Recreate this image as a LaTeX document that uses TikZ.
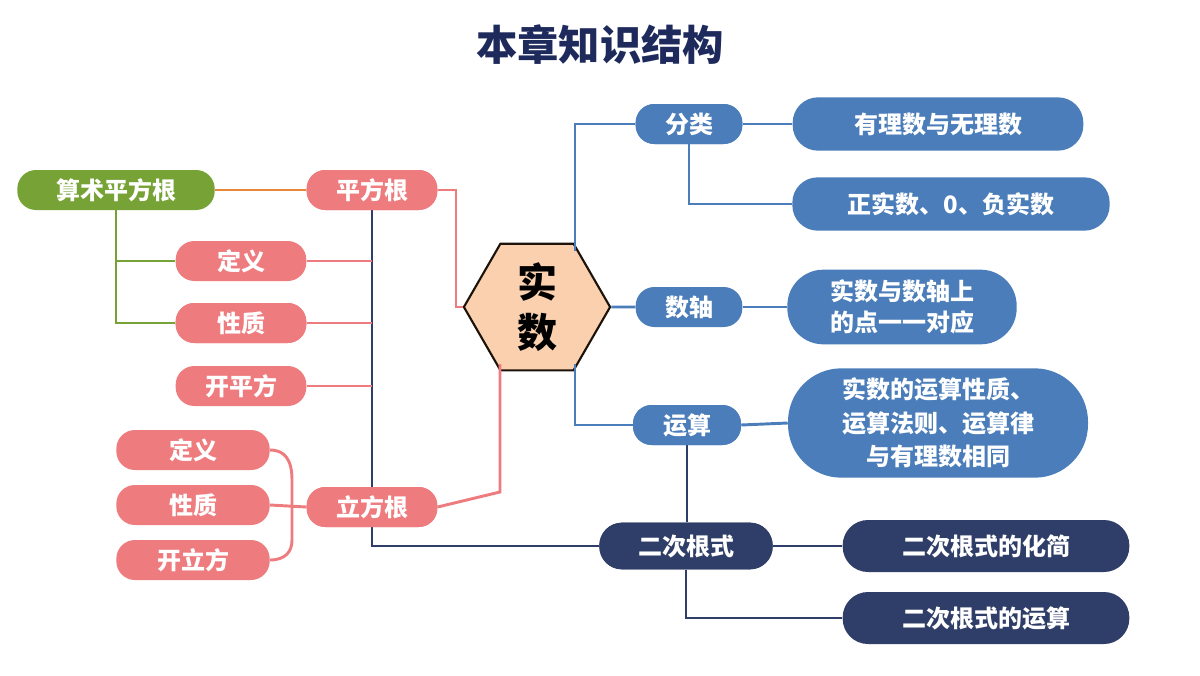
\documentclass[tikz,border=0pt]{standalone}
\usepackage{fontspec}
\setmainfont{Noto Sans CJK SC}
\usetikzlibrary{shapes.geometric}
\definecolor{pk}{HTML}{EE7B7D}
\definecolor{gr}{HTML}{76A236}
\definecolor{bl}{HTML}{4A7DB9}
\definecolor{nv}{HTML}{2F3E68}
\definecolor{orl}{HTML}{E8873A}
\definecolor{peach}{HTML}{FAD0AE}
\definecolor{ttl}{HTML}{1F2A5C}
\begin{document}
\begin{tikzpicture}[x=0.75pt,y=-0.75pt,
 box/.style={rounded corners=14pt,text=white,font=\fontsize{18}{21}\selectfont\bfseries,inner sep=0pt,minimum height=30pt,align=center},
 p/.style={box,fill=pk},
 g/.style={box,fill=gr},
 b/.style={box,fill=bl},
 n/.style={box,fill=nv},
 lp/.style={pk,line width=2.2pt},
 lg/.style={gr,line width=2.2pt},
 lb/.style={bl,line width=2.2pt},
 ln/.style={nv,line width=2.2pt}]
\useasboundingbox (0,0) rectangle (1200,675);
\node[font=\fontsize{31}{36}\selectfont\bfseries,text=ttl] (t) at (600,45) {本章知识结构};
% nodes
\node[g,minimum width=148pt] (ss) at (116,190) {算术平方根};
\node[p,minimum width=98pt] (pf) at (372,190) {平方根};
\node[p,minimum width=98pt] (dy) at (241,261) {定义};
\node[p,minimum width=98pt] (xz) at (241,323) {性质};
\node[p,minimum width=98pt] (kp) at (241,386) {开平方};
\node[p,minimum width=115pt] (dy2) at (193,450) {定义};
\node[p,minimum width=115pt] (xz2) at (193,505) {性质};
\node[p,minimum width=115pt] (kl) at (193,560) {开立方};
\node[p,minimum width=98pt] (lf) at (372,507) {立方根};
\node[regular polygon,regular polygon sides=6,minimum size=100pt,inner sep=0pt,fill=peach,draw=black!85!brown,line width=1.6pt,font=\fontsize{30}{38}\selectfont\bfseries,align=center] (hex) at (537,307) {实\\数};
\coordinate (hbl) at (500,364);
\coordinate (hbr) at (575,364);
\coordinate (htr) at (575,251);
\node[b,minimum width=80pt] (fl) at (689,124) {分类};
\node[b,minimum width=218pt,minimum height=40pt,rounded corners=19pt] (yl) at (938,124) {有理数与无理数};
\node[b,minimum width=238pt,minimum height=40pt,rounded corners=19pt] (zs) at (951,204) {正实数、0、负实数};
\node[b,minimum width=80pt] (sz) at (689,307) {数轴};
\node[b,minimum width=172pt,minimum height=56pt,rounded corners=27pt,font=\fontsize{18}{23}\selectfont\bfseries] (dd) at (902,307) {实数与数轴上\\的点一一对应};
\node[b,minimum width=81pt] (ys) at (687,425) {运算};
\node[b,minimum width=225pt,minimum height=82pt,rounded corners=40pt,font=\fontsize{18}{25}\selectfont\bfseries] (big) at (938,423) {实数的运算性质、\\运算法则、运算律\\与有理数相同};
\node[n,minimum width=130pt,minimum height=35pt,rounded corners=17pt] (ec) at (686,546) {二次根式};
\node[n,minimum width=215pt,minimum height=39pt,rounded corners=19pt] (hj) at (986,546) {二次根式的化简};
\node[n,minimum width=215pt,minimum height=39pt,rounded corners=19pt] (ys2) at (986,618) {二次根式的运算};
% connectors
\begin{scope}[on background layer/.style={}]
\end{scope}
\draw[orl,line width=2.2pt] (ss.east) -- (pf.west);
\draw[lg] (ss.south) |- (xz.west);
\draw[lg] (ss.south |- dy.west) -- (dy.west);
\draw[lp] (pf.east) -- (456,190) |- (hex.west);
\draw[ln] (pf.south) |- (ec.west);
\draw[lp] (dy.east) -- (dy.east -| pf.south);
\draw[lp] (xz.east) -- (xz.east -| pf.south);
\draw[lp] (kp.east) -- (kp.east -| pf.south);
\draw[lp] (lf.east) -- (500,492) -- (hbl);
\draw[lp] (xz2.east) -- (lf.west);
\draw[lp] (dy2.east) .. controls (285,450) and (292,460) .. (292,480) -- (292,540) .. controls (292,552) and (285,560) .. (kl.east);
\draw[lb] (htr) |- (fl.west);
\draw[lb] (hex.east) -- (sz.west);
\draw[lb] (hbr) |- (ys.west);
\draw[lb] (fl.east) -- (yl.west);
\draw[lb] (fl.south) |- (zs.west);
\draw[lb] (sz.east) -- (dd.west);
\draw[lb] (ys.east) -- (big.west);
\draw[ln] (ys.south) -- (ec.north -| ys.south);
\draw[ln] (ec.east) -- (hj.west);
\draw[ln] (ec.south) |- (ys2.west);
% redraw nodes over lines
\node[p,minimum width=98pt] at (pf) {平方根};
\node[p,minimum width=98pt] at (lf) {立方根};
\node[p,minimum width=98pt] at (xz) {性质};
\node[n,minimum width=130pt,minimum height=35pt,rounded corners=17pt] at (ec) {二次根式};
\node[b,minimum width=81pt] at (ys) {运算};
\node[b,minimum width=80pt] at (fl) {分类};
\end{tikzpicture}
\end{document}
